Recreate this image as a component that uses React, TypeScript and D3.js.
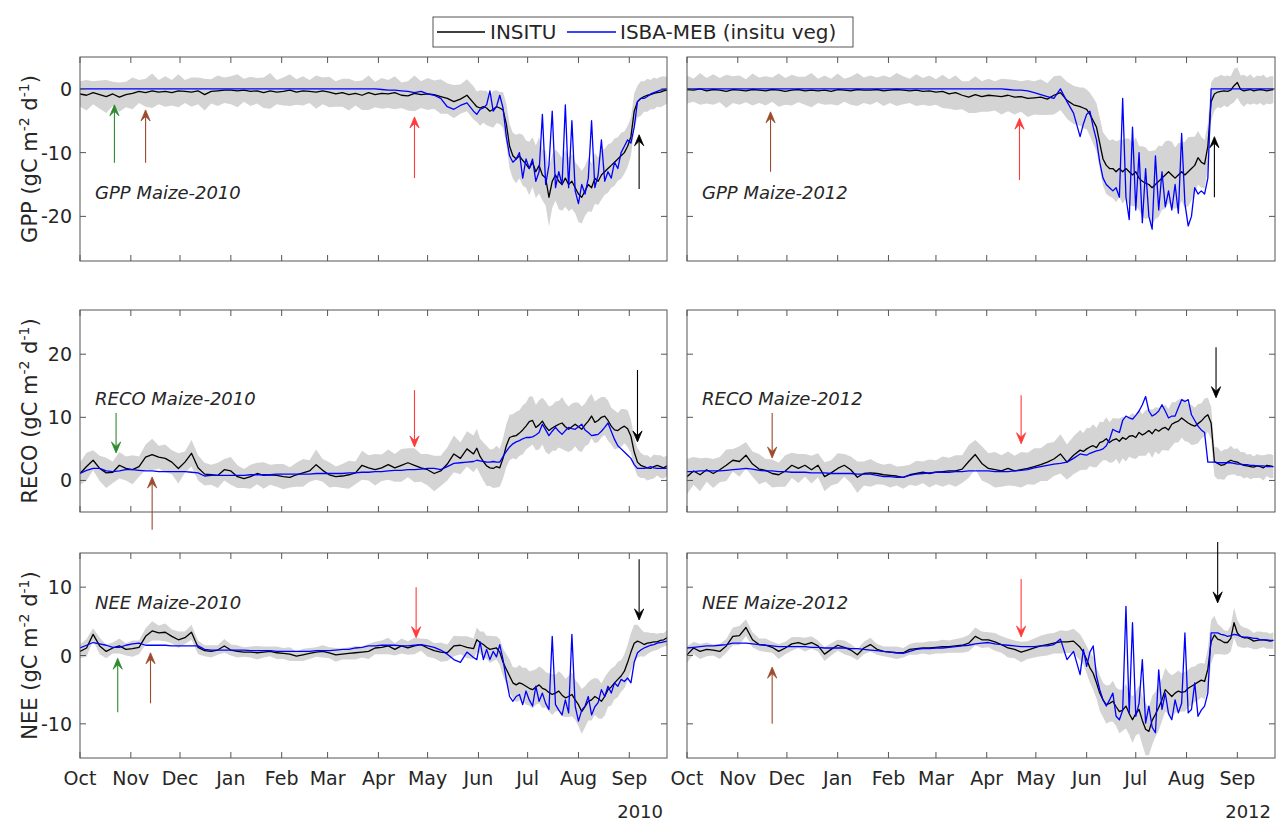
import React from "react";
import * as d3 from "d3";

// ---------------- DATA ----------------
// sample days counted from 1 October (every 4 days until late May, then every 2 days)
const DAYS: number[] = d3.range(0, 240, 4).concat(d3.range(240, 359, 2));
const SEASON_START_YEARS = [2009, 2011];
const YEAR_LABELS = ["2010", "2012"];
const VARIABLES = ["GPP", "RECO", "NEE"];
const Y_DOMAINS: [number, number][] = [[-27, 5], [-5, 27], [-15, 15]];
const Y_TICKS = [[-20, -10, 0], [0, 10, 20], [-10, 0, 10]];
const LEGEND_LABELS = ["INSITU", "ISBA-MEB (insitu veg)"];

const GPP10_INSITU = [
  -0.8, -1.0, -0.6, -0.9, -1.2, -0.8, -1.3, -0.9, -0.7, -0.4,
  -0.6, -0.3, -0.5, -0.4, -0.6, -0.3, -0.4, -0.5, -0.3, -0.9,
  -0.4, -0.3, -0.2, -0.2, -0.3, -0.2, -0.4, -0.3, -0.6, -0.3,
  -0.5, -0.4, -0.2, -0.5, -0.3, -0.4, -0.5, -0.3, -0.5, -0.8,
  -0.6, -0.9, -0.7, -1.0, -0.6, -0.9, -0.7, -0.8, -0.6, -1.0,
  -1.1, -0.7, -0.9, -0.8, -0.9, -1.2, -1.5, -2.0, -1.6, -1.0,
  -2.2, -2.8, -3.0, -2.8, -3.0, -3.5, -3.2, -2.8, -3.0, -3.3,
  -5.5, -9.0, -10.5, -11.0, -10.5, -11.2, -11.8, -12.5, -11.5, -13.0,
  -12.0, -13.5, -14.0, -17.0, -14.5, -13.5, -14.5, -15.0, -14.0, -15.0,
  -14.5, -15.5, -16.5, -17.0, -16.0, -15.0, -15.5, -14.0, -14.5, -13.5,
  -13.0, -12.5, -12.0, -11.5, -11.0, -10.5, -10.0, -9.0, -7.5, -3.5,
  -2.0, -1.5, -1.2, -1.0, -0.9, -0.7, -0.6, -0.5, -0.3, -0.2,
];
const GPP10_MODEL = [
  0, 0, 0, 0, 0, 0, 0, 0, 0, 0,
  0, 0, 0, 0, 0, 0, 0, 0, 0, 0,
  0, 0, 0, 0, 0, 0, 0, 0, 0, 0,
  0, 0, 0, 0, 0, 0, 0, 0, 0, 0,
  0, 0, 0, 0, 0, 0, -0.1, -0.2, -0.2, -0.3,
  -0.4, -0.6, -0.4, -0.8, -1.0, -1.5, -2.8, -3.2, -2.6, -2.2,
  -3.5, -4.0, -3.2, -3.0, -2.5, -0.3, -3.5, -2.8, -1.0, -3.0,
  -7.5, -10.5, -11.5, -11.0, -10.0, -14.0, -11.0, -12.5, -11.0, -14.5,
  -13.0, -4.0, -15.0, -12.0, -3.5, -15.5, -13.0, -15.0, -2.5, -15.5,
  -5.0, -16.0, -18.0, -15.0, -16.5, -14.0, -5.0, -15.5, -13.5, -8.0,
  -14.5, -13.0, -14.0, -11.5, -12.5, -10.0, -9.0, -8.0, -8.5, -6.0,
  -2.0, -1.5, -1.5, -1.2, -0.8, -0.6, -0.4, -0.2, -0.1, 0.0,
];
const GPP10_SPREAD = [
  2.0, 2.4, 1.8, 2.2, 2.6, 1.9, 2.3, 2.0, 2.5, 1.8,
  2.2, 2.7, 1.9, 2.4, 2.0, 2.6, 1.8, 2.3, 2.1, 2.5,
  1.9, 2.4, 2.0, 2.2, 2.6, 1.8, 2.3, 2.0, 2.4, 2.8,
  1.9, 2.2, 2.5, 2.0, 2.3, 1.8, 2.6, 2.1, 2.4, 2.0,
  2.2, 2.5, 1.9, 2.3, 2.7, 2.0, 2.4, 2.2, 2.6, 2.0,
  2.3, 2.8, 2.1, 2.5, 2.2, 2.7, 2.4, 2.6, 2.3, 2.5,
  2.6, 2.4, 2.8, 2.5, 2.7, 2.4, 2.9, 2.6, 2.5, 2.8,
  3.2, 3.5, 3.6, 3.8, 3.5, 4.0, 3.7, 4.2, 3.9, 4.1,
  4.4, 4.0, 4.3, 4.6, 4.2, 4.0, 4.4, 4.1, 4.5, 4.2,
  4.3, 4.0, 4.4, 4.1, 3.9, 4.2, 3.8, 4.0, 3.7, 3.9,
  3.6, 3.8, 3.5, 3.7, 3.4, 3.6, 3.3, 3.2, 3.0, 2.8,
  2.5, 2.7, 2.4, 2.6, 2.3, 2.5, 2.2, 2.4, 2.3, 2.1,
];

const GPP12_INSITU = [
  -0.1, -0.2, 0.0, -0.3, -0.1, -0.2, -0.4, -0.1, -0.2, -0.3,
  -0.1, -0.2, -0.3, -0.1, -0.2, -0.4, -0.2, -0.1, -0.3, -0.2,
  -0.3, -0.2, -0.4, -0.1, -0.2, -0.3, -0.1, -0.2, -0.2, -0.1,
  -0.3, -0.2, -0.1, -0.2, -0.3, -0.2, -0.4, -0.3, -0.5, -0.4,
  -0.8, -0.6, -1.0, -1.3, -0.9, -1.2, -1.0, -1.1, -1.2, -1.0,
  -1.3, -1.2, -1.5, -1.4, -1.3, -1.6, -1.0, -0.6, -1.8, -2.5,
  -2.8, -3.0, -3.2, -4.0, -5.0, -6.0, -8.5, -11.0, -12.0, -12.5,
  -12.5, -13.0, -12.5, -13.0, -12.5, -13.0, -13.5, -13.0, -14.0, -14.5,
  -14.8, -15.0, -15.5, -15.0, -14.5, -14.0, -13.5, -13.0, -13.5, -14.0,
  -13.5, -13.0, -13.5, -13.0, -12.5, -12.0, -10.8, -11.5, -11.8, -9.0,
  -2.0, -0.8, -0.5, -0.4, -0.3, -0.4, -0.2, 0.5, 1.0, -0.1,
  -0.3, -0.2, -0.1, -0.3, -0.2, -0.1, -0.2, -0.3, -0.2, -0.1,
];
const GPP12_MODEL = [
  0, 0, 0, 0, 0, 0, 0, 0, 0, 0,
  0, 0, 0, 0, 0, 0, 0, 0, 0, 0,
  0, 0, 0, 0, 0, 0, 0, 0, 0, 0,
  0, 0, 0, 0, 0, 0, 0, 0, 0, 0,
  0, 0, 0, 0, 0, 0, 0, 0, 0, -0.1,
  -0.2, -0.2, -0.3, -0.6, -0.9, -1.2, -1.5, 0.0, -2.0, -3.8,
  -7.5, -5.5, -4.0, -3.5, -6.0, -8.0, -11.5, -14.0, -15.0, -15.5,
  -16.0, -15.5, -17.0, -1.5, -17.0, -20.5, -6.0, -19.0, -10.0, -21.0,
  -12.5, -20.0, -22.0, -10.5, -19.0, -13.0, -18.5, -16.0, -19.0, -15.0,
  -19.5, -7.0, -18.0, -21.5, -20.0, -15.5, -16.5, -16.0, -16.5, -14.0,
  0, 0, 0, 0, 0, 0, 0, 0, 0, 0,
  0, 0, 0, 0, 0, 0, 0, 0, 0, 0,
];
const GPP12_SPREAD = [
  2.2, 1.8, 2.5, 2.0, 2.4, 1.9, 2.6, 2.1, 2.3, 1.8,
  2.5, 2.0, 2.3, 1.9, 2.6, 2.1, 2.4, 2.0, 2.2, 2.7,
  1.9, 2.3, 2.0, 2.5, 1.8, 2.2, 2.6, 2.0, 2.3, 1.9,
  2.4, 2.0, 2.6, 2.2, 1.9, 2.5, 2.1, 2.4, 2.0, 2.6,
  2.3, 2.7, 2.2, 2.5, 2.9, 2.4, 2.6, 2.3, 2.8, 2.5,
  2.7, 2.4, 2.9, 2.6, 2.8, 2.5, 3.0, 2.7, 2.9, 3.0,
  3.0, 3.2, 3.1, 3.4, 3.6, 3.8, 4.0, 4.2, 4.5, 4.4,
  4.6, 4.8, 4.5, 5.0, 4.7, 5.2, 4.9, 5.4, 5.0, 5.5,
  5.6, 5.2, 5.8, 5.4, 5.6, 5.0, 5.3, 4.9, 5.2, 4.8,
  5.0, 4.6, 5.2, 5.4, 5.0, 4.5, 4.2, 4.0, 3.8, 3.5,
  3.0, 2.6, 2.4, 2.6, 2.3, 2.5, 2.2, 2.6, 2.4, 2.2,
  2.5, 2.1, 2.4, 2.0, 2.3, 2.1, 2.4, 2.0, 2.2, 2.1,
];

const RECO10_INSITU = [
  1.1, 2.2, 3.2, 1.9, 1.2, 1.3, 2.4, 1.9, 1.7, 2.2,
  3.7, 4.1, 3.7, 3.5, 2.9, 1.9, 2.9, 4.3, 2.0, 1.0,
  0.9, 0.8, 1.7, 1.5, 0.6, 0.3, 0.6, 1.1, 0.8, 0.9,
  0.8, 0.6, 0.5, 0.9, 1.2, 1.5, 2.5, 1.6, 0.9, 0.6,
  0.7, 0.9, 1.2, 2.4, 2.0, 1.7, 2.0, 2.5, 2.0, 2.4,
  2.8, 2.4, 2.0, 1.7, 1.1, 1.5, 2.6, 4.2, 3.5, 5.0,
  4.2, 5.1, 3.8, 3.0, 2.3, 2.0, 1.9, 2.2, 2.0, 3.5,
  5.5, 6.8, 7.0, 7.1, 7.5, 8.0, 8.6, 9.3, 9.5, 8.4,
  8.8, 9.4, 8.5, 7.9, 8.3, 8.6, 8.9, 9.1, 8.5, 8.1,
  8.5, 8.9, 8.5, 8.1, 8.8, 9.4, 10.2, 9.2, 9.5, 10.0,
  10.2, 9.5, 8.6, 8.0, 7.9, 8.3, 8.6, 8.2, 7.0, 4.5,
  2.9, 2.4, 2.2, 2.0, 1.9, 2.2, 2.4, 2.2, 2.0, 2.3,
];
const RECO10_MODEL = [
  1.1, 1.6, 1.9, 1.9, 1.5, 1.4, 1.5, 1.7, 1.7, 1.6,
  1.5, 1.5, 1.4, 1.4, 1.4, 1.4, 1.4, 1.3, 1.2, 0.7,
  0.8, 0.8, 0.8, 0.8, 0.8, 0.8, 0.9, 0.9, 0.9, 0.9,
  1.0, 1.0, 1.0, 1.0, 1.0, 1.0, 1.1, 1.1, 1.1, 1.1,
  1.1, 1.2, 1.2, 1.3, 1.3, 1.4, 1.4, 1.5, 1.6, 1.6,
  1.7, 1.7, 1.8, 1.9, 1.9, 1.7, 2.2, 2.7, 2.8, 2.9,
  3.0, 3.2, 3.1, 3.0, 2.9, 2.9, 3.0, 2.9, 2.9, 3.8,
  4.6, 5.3, 5.8, 6.1, 6.3, 6.6, 6.8, 6.8, 6.9, 7.2,
  7.6, 8.9, 8.0, 7.1, 7.8, 8.4, 7.8, 7.3, 7.9, 8.4,
  8.2, 8.1, 8.5, 8.9, 8.0, 7.6, 7.1, 7.2, 7.3, 7.8,
  8.4, 9.1, 7.8, 6.5, 5.5, 5.0, 4.5, 4.0, 3.5, 2.5,
  1.9, 1.9, 1.9, 2.0, 2.2, 2.0, 1.9, 1.9, 1.9, 1.9,
];
const RECO10_SPREAD = [
  1.8, 2.2, 1.6, 2.0, 2.4, 1.7, 2.1, 1.9, 2.3, 1.6,
  2.0, 2.5, 1.8, 2.2, 1.9, 2.4, 1.7, 2.1, 2.0, 1.8,
  1.6, 2.0, 1.7, 2.2, 1.8, 1.5, 1.9, 1.7, 2.1, 1.6,
  1.8, 2.0, 1.6, 1.9, 2.2, 1.7, 2.4, 1.8, 2.0, 1.6,
  1.9, 2.2, 1.8, 2.3, 2.0, 2.5, 2.1, 2.4, 2.2, 2.6,
  2.3, 2.7, 2.2, 2.5, 2.8, 2.4, 2.6, 2.9, 2.5, 2.8,
  2.9, 3.1, 2.8, 3.0, 3.2, 2.9, 3.1, 3.3, 3.0, 3.2,
  3.4, 3.6, 3.5, 3.8, 3.6, 3.9, 3.7, 4.0, 3.8, 3.6,
  3.9, 3.7, 4.0, 3.8, 3.6, 3.9, 3.7, 4.1, 3.8, 3.6,
  3.7, 3.5, 3.8, 3.6, 3.4, 3.7, 3.5, 3.3, 3.4, 3.2,
  3.0, 3.2, 2.9, 3.1, 2.8, 3.0, 2.7, 2.9, 2.6, 2.4,
  2.2, 2.0, 1.8, 2.0, 1.7, 1.9, 1.6, 1.8, 1.7, 1.6,
];

const RECO12_INSITU = [
  0.6, 1.5, 0.9, 1.7, 1.1, 1.7, 2.4, 3.2, 3.0, 4.0,
  2.6, 1.8, 1.6, 1.1, 0.9, 1.5, 2.4, 1.9, 2.4, 1.7,
  2.4, 0.6, 1.2, 1.9, 2.4, 1.7, 0.5, 1.1, 1.2, 1.1,
  0.9, 0.8, 0.7, 0.5, 0.9, 1.1, 1.3, 1.1, 1.3, 1.4,
  1.5, 1.5, 1.8, 3.0, 4.1, 2.7, 1.9, 1.7, 1.5, 1.9,
  1.5, 1.7, 1.9, 2.2, 2.5, 2.9, 3.4, 4.2, 2.9, 4.0,
  4.8, 4.6, 5.0, 5.3, 5.5, 5.2, 6.0, 6.2, 6.6, 6.0,
  6.4, 6.6, 6.2, 6.8, 6.5, 7.0, 7.1, 6.8, 7.6, 7.2,
  7.5, 7.9, 7.4, 8.1, 7.8, 8.2, 8.4, 8.0, 8.9, 9.2,
  9.4, 9.9, 9.5, 9.1, 8.8, 8.6, 9.0, 9.4, 10.0, 10.4,
  9.1, 3.0, 2.7, 2.4, 2.5, 2.9, 3.2, 3.0, 2.9, 2.6,
  2.4, 2.3, 2.2, 2.1, 2.3, 2.2, 2.0, 2.4, 2.3, 2.2,
];
const RECO12_MODEL = [
  1.4, 1.4, 1.5, 1.5, 1.5, 1.5, 1.6, 1.7, 1.8, 1.9,
  1.8, 1.6, 1.5, 1.5, 1.4, 1.4, 1.3, 1.3, 1.3, 1.2,
  1.2, 1.2, 1.1, 1.1, 1.1, 1.1, 1.0, 1.0, 1.0, 0.8,
  0.6, 0.6, 0.5, 0.5, 0.8, 1.0, 1.1, 1.2, 1.3, 1.3,
  1.3, 1.4, 1.4, 1.5, 1.5, 1.5, 1.5, 1.4, 1.4, 1.4,
  1.5, 1.6, 1.7, 2.0, 2.2, 2.4, 2.6, 2.7, 2.9, 3.5,
  4.2, 4.1, 4.0, 4.3, 4.5, 4.7, 4.8, 5.0, 5.5, 6.5,
  8.1, 7.8, 7.6, 9.5, 10.2, 9.9, 9.7, 10.3, 11.0, 12.0,
  13.3, 11.0, 10.2, 10.5, 11.0, 12.0, 11.0, 9.9, 10.2, 10.2,
  11.5, 12.8, 12.5, 12.8, 10.4, 9.5, 8.6, 8.0, 7.6, 2.9,
  2.9, 2.9, 2.8, 2.8, 2.8, 2.8, 2.8, 2.7, 2.6, 2.6,
  2.5, 2.5, 2.4, 2.4, 2.3, 2.3, 2.3, 2.2, 2.2, 2.2,
];
const RECO12_SPREAD = [
  2.8, 2.2, 2.6, 1.9, 2.3, 2.0, 2.5, 1.8, 2.4, 2.1,
  2.0, 2.4, 1.8, 2.2, 1.9, 2.5, 2.0, 2.3, 1.8, 2.2,
  1.9, 2.3, 2.0, 2.4, 1.8, 2.1, 2.5, 1.9, 2.2, 1.7,
  1.6, 1.9, 1.5, 1.8, 1.6, 2.0, 1.7, 2.2, 1.9, 2.4,
  2.1, 2.5, 2.2, 2.6, 2.3, 2.7, 2.4, 2.8, 2.5, 2.7,
  2.4, 2.8, 2.5, 2.9, 2.6, 3.0, 2.7, 3.1, 2.8, 3.0,
  3.2, 2.9, 3.3, 3.0, 3.4, 3.1, 3.3, 3.0, 3.4, 3.2,
  3.5, 3.2, 3.6, 3.3, 3.5, 3.2, 3.6, 3.4, 3.7, 3.3,
  3.6, 3.4, 3.8, 3.5, 3.7, 3.4, 3.6, 3.3, 3.5, 3.2,
  3.4, 3.1, 3.3, 3.0, 3.2, 2.9, 3.1, 2.8, 3.0, 2.7,
  2.6, 2.3, 2.5, 2.2, 2.4, 2.1, 2.3, 2.0, 2.2, 1.9,
  2.1, 1.8, 2.0, 1.7, 1.9, 1.8, 2.0, 1.7, 1.9, 1.8,
];

const NEE10_INSITU = [
  0.6, 1.1, 3.1, 1.4, 0.6, 1.1, 1.4, 0.9, 1.0, 1.2,
  2.8, 3.6, 3.3, 3.4, 2.8, 2.3, 2.6, 3.4, 1.2, 0.7,
  0.6, 0.8, 1.4, 0.8, 0.6, 0.5, 0.5, 0.4, 0.5, 0.6,
  0.4, 0.3, 0.2, -0.1, 0.1, 0.3, 0.5, 0.6, 0.4, 0.1,
  0.2, 0.3, 0.4, 0.5, 0.6, 1.1, 1.2, 1.4, 0.9, 1.4,
  1.1, 1.4, 1.6, 1.1, 0.7, 0.5, 0.4, 1.4, 1.5, 1.2,
  1.0, 2.3, 1.9, 1.6, 1.2, 0.9, 1.0, 1.1, 0.5, -1.0,
  -2.0, -3.0, -4.0, -4.3, -4.0, -4.2, -4.5, -4.8, -5.0, -4.6,
  -4.3, -4.8, -5.0, -5.4, -5.7, -5.5, -5.2, -5.8, -6.2, -6.0,
  -5.7, -6.5, -7.2, -8.2, -7.5, -6.7, -6.5, -6.0, -6.3, -6.7,
  -6.0, -5.0, -4.6, -4.0, -3.5, -3.0, -2.3, -1.0, 0.5, 1.8,
  2.1, 1.9, 1.6, 1.8, 1.9, 2.0, 2.0, 2.2, 2.3, 2.6,
];
const NEE10_MODEL = [
  1.1, 1.5, 1.9, 1.7, 1.5, 1.2, 1.2, 1.5, 1.7, 1.8,
  1.5, 1.5, 1.5, 1.5, 1.4, 1.4, 1.4, 1.4, 1.4, 0.9,
  0.8, 0.8, 0.8, 0.8, 0.8, 0.8, 0.7, 0.7, 0.7, 0.7,
  0.6, 0.6, 0.6, 0.6, 0.6, 0.6, 0.7, 0.7, 0.7, 0.8,
  0.9, 0.9, 1.1, 1.2, 1.4, 1.4, 1.5, 1.5, 1.5, 1.4,
  1.4, 1.5, 1.6, 1.4, 1.2, 0.8, 0.2, -0.6, -1.0, 0.5,
  -0.3, -0.6, 2.0, -0.6, 0.9, -0.6, 0.6, -0.2, 1.6, -0.6,
  -3.5, -6.0, -6.7, -6.0, -5.7, -7.2, -5.2, -6.5, -7.4, -4.5,
  -6.7, -5.5, -7.0, -7.9, 2.8, -7.2, -8.0, -8.7, -6.5, -8.4,
  3.1, -7.4, -9.6, -8.0, -7.4, -6.0, -8.7, -7.5, -6.9, -5.0,
  -6.0, -4.5, -5.5, -4.0, -4.5, -3.5, -3.8, -3.3, -4.0, -1.0,
  0.4, 0.8, 1.1, 1.3, 1.5, 1.6, 1.8, 1.9, 2.0, 2.1,
];
const NEE10_SPREAD = [
  1.0, 1.3, 0.9, 1.2, 1.0, 0.8, 1.1, 0.9, 1.2, 1.0,
  1.2, 1.4, 1.1, 1.3, 1.0, 1.2, 0.9, 1.1, 1.0, 0.8,
  0.9, 0.7, 1.0, 0.8, 0.9, 0.7, 0.8, 1.0, 0.8, 0.7,
  0.9, 0.8, 1.0, 0.7, 0.9, 0.8, 0.7, 0.9, 0.8, 1.0,
  0.8, 0.9, 1.0, 0.8, 1.1, 0.9, 1.0, 1.2, 0.9, 1.1,
  1.0, 1.2, 0.9, 1.3, 1.1, 1.4, 1.2, 1.5, 1.3, 1.6,
  1.5, 1.8, 1.6, 1.9, 1.7, 2.0, 1.8, 1.7, 1.9, 2.0,
  2.2, 2.4, 2.3, 2.5, 2.6, 2.4, 2.7, 2.5, 2.8, 2.6,
  2.7, 2.9, 2.6, 2.8, 3.0, 2.7, 2.9, 3.1, 2.8, 3.0,
  3.2, 2.9, 3.1, 3.3, 3.0, 2.8, 3.0, 2.7, 2.9, 2.6,
  2.8, 2.5, 2.7, 2.4, 2.6, 2.3, 2.5, 2.6, 2.8, 2.7,
  2.4, 2.0, 1.8, 1.6, 1.4, 1.3, 1.2, 1.1, 1.0, 1.1,
];

const NEE12_INSITU = [
  0.1, 1.1, 0.6, 0.9, 0.8, 0.6, 1.4, 2.8, 2.9, 4.1,
  2.3, 1.6, 1.5, 1.2, 0.6, 1.1, 1.7, 1.9, 1.6, 1.9,
  1.4, 0.2, 0.9, 1.5, 1.2, 0.8, 0.1, 1.1, 1.6, 0.9,
  0.6, 0.5, 0.4, 0.4, 0.9, 1.0, 1.1, 1.1, 1.2, 1.3,
  1.3, 1.4, 1.5, 1.8, 2.8, 2.3, 2.3, 2.0, 1.6, 1.1,
  0.9, 0.5, 0.8, 1.1, 1.4, 1.6, 1.8, 2.0, 2.0, 2.1,
  1.2, 0.5, -0.6, -1.8, -2.6, -4.0, -5.5, -6.5, -7.2, -7.0,
  -6.7, -7.5, -8.2, -8.0, -7.4, -8.5, -9.4, -8.5, -7.9, -9.5,
  -10.8, -11.1, -9.5, -8.6, -7.6, -6.5, -5.0, -5.5, -6.0, -5.5,
  -5.2, -5.4, -5.3, -4.8, -4.5, -4.2, -3.9, -3.6, -3.8, -2.0,
  2.0, 3.0, 2.4, 2.2, 1.9, 1.9, 2.5, 4.8, 3.3, 2.8,
  2.6, 2.6, 2.4, 2.1, 2.2, 2.3, 2.3, 2.2, 2.1, 2.2,
];
const NEE12_MODEL = [
  1.1, 1.2, 1.3, 1.4, 1.4, 1.5, 1.6, 1.8, 1.8, 1.8,
  1.7, 1.6, 1.5, 1.4, 1.3, 1.3, 1.3, 1.3, 1.3, 1.2,
  1.2, 1.1, 1.1, 1.1, 1.1, 1.0, 1.0, 0.9, 0.8, 0.7,
  0.6, 0.5, 0.4, 0.3, 0.6, 0.9, 1.0, 1.0, 1.1, 1.1,
  1.2, 1.3, 1.4, 1.5, 1.7, 1.8, 1.9, 1.7, 1.6, 1.5,
  1.4, 1.3, 1.3, 1.3, 1.4, 1.4, 1.6, 2.4, -0.6, 0.6,
  -2.8, 0.9, -1.6, 0.5, 1.4, -3.0, -5.0, -6.5, -7.4, -6.5,
  -5.5, -8.9, -9.4, -8.0, 7.2, -8.4, 4.8, -8.9, -7.0, -0.6,
  -9.9, -7.4, -10.5, -11.3, -2.1, -7.9, -5.5, -8.5, -9.4, -6.5,
  -8.4, -7.0, 3.3, -8.4, -7.9, -4.0, -8.9, -8.0, -7.4, -5.5,
  3.3, 3.3, 3.3, 3.1, 3.0, 2.8, 2.9, 3.1, 3.0, 2.8,
  2.7, 2.7, 2.6, 2.5, 2.5, 2.3, 2.3, 2.3, 2.2, 2.2,
];
const NEE12_SPREAD = [
  1.2, 0.9, 1.1, 1.0, 0.8, 1.1, 1.0, 1.3, 1.4, 1.2,
  1.1, 0.9, 1.0, 0.8, 1.1, 0.9, 1.0, 0.8, 1.0, 0.9,
  0.8, 1.0, 0.9, 0.8, 1.0, 0.9, 0.8, 0.9, 1.0, 0.8,
  0.7, 0.8, 0.9, 0.7, 0.8, 0.9, 0.8, 1.0, 0.9, 1.0,
  0.9, 1.0, 1.1, 1.2, 1.3, 1.2, 1.1, 1.3, 1.2, 1.4,
  1.3, 1.5, 1.3, 1.4, 1.5, 1.6, 1.5, 1.7, 1.6, 1.8,
  1.9, 1.8, 2.0, 2.2, 2.4, 2.3, 2.6, 2.5, 2.8, 2.7,
  3.0, 2.8, 3.2, 3.0, 3.3, 3.1, 3.4, 3.2, 3.5, 3.6,
  3.8, 3.5, 3.6, 3.3, 3.4, 3.1, 3.2, 3.0, 3.1, 2.9,
  3.0, 2.8, 2.9, 2.7, 2.8, 2.6, 2.7, 2.5, 2.6, 3.0,
  3.2, 2.8, 2.2, 2.0, 1.8, 1.7, 1.9, 2.2, 1.9, 1.6,
  1.5, 1.4, 1.3, 1.2, 1.3, 1.2, 1.1, 1.2, 1.1, 1.2,
];

// event arrows: [kind, day from 1 Oct, tail value, head value]
type Arrow = [string, number, number, number];
const ARROWS_GPP_2010: Arrow[] = [
  ["green", 21, -11.6, -2.5], ["brown", 40, -11.6, -3.3], ["red", 204, -14.0, -4.4], ["black", 341.5, -15.7, -7.2],
];
const ARROWS_GPP_2012: Arrow[] = [
  ["brown", 51, -13.0, -3.6], ["red", 203, -14.3, -4.6], ["black", 322, -17.0, -7.5],
];
const ARROWS_RECO_2010: Arrow[] = [
  ["green", 22.5, 10.7, 4.35], ["brown", 44, -7.8, 0.55], ["red", 204, 14.3, 5.3], ["black", 340, 17.5, 6.1],
];
const ARROWS_RECO_2012: Arrow[] = [
  ["brown", 52, 10.7, 3.55], ["red", 204, 13.5, 5.8], ["black", 323, 21.1, 13.1],
];
const ARROWS_NEE_2010: Arrow[] = [
  ["green", 23, -8.3, -0.4], ["brown", 43, -7.0, 0.4], ["red", 205.5, 10.0, 2.6], ["black", 341.5, 14.1, 5.2],
];
const ARROWS_NEE_2012: Arrow[] = [
  ["brown", 52, -10.0, -1.7], ["red", 204.5, 11.2, 2.7], ["black", 324, 16.6, 7.7],
];

const SERIES = [
  [[GPP10_INSITU, GPP10_MODEL, GPP10_SPREAD], [GPP12_INSITU, GPP12_MODEL, GPP12_SPREAD]],
  [[RECO10_INSITU, RECO10_MODEL, RECO10_SPREAD], [RECO12_INSITU, RECO12_MODEL, RECO12_SPREAD]],
  [[NEE10_INSITU, NEE10_MODEL, NEE10_SPREAD], [NEE12_INSITU, NEE12_MODEL, NEE12_SPREAD]],
];
const ARROWS = [
  [ARROWS_GPP_2010, ARROWS_GPP_2012],
  [ARROWS_RECO_2010, ARROWS_RECO_2012],
  [ARROWS_NEE_2010, ARROWS_NEE_2012],
];

// ---------------- LAYOUT / STYLE ----------------
const W = 1277;
const H = 824;
const FONT = "'DejaVu Sans', Verdana, sans-serif";
const COLS = [{ x0: 80, x1: 667 }, { x0: 687, x1: 1275 }];
const ROWS = [{ y0: 57, y1: 261, labelY: 199 }, { y0: 310, y1: 512, labelY: 405 }, { y0: 553, y1: 758, labelY: 609 }];
const ARROW_COLORS: Record<string, string> = {
  green: "#2f8a2f", brown: "#9c4a2c", red: "#ff3a3a", black: "#000000",
};
const AXIS_COLOR = "#555";
const TEXT_COLOR = "#262626";
const GREY = "#d4d4d4";
const BLUE = "#0000ff";

function ArrowMark({ x, yTail, yHead, color }: { x: number; yTail: number; yHead: number; color: string }) {
  const dir = yHead < yTail ? -1 : 1; // -1 = pointing up
  const L = 11;
  const w = 4.6;
  const notch = 6.5;
  const base = yHead - dir * L;
  const mid = yHead - dir * notch;
  const head = `M${x},${yHead} L${x - w},${base} L${x},${mid} L${x + w},${base} Z`;
  return (
    <g>
      <line x1={x} x2={x} y1={yTail} y2={mid} stroke={color} strokeWidth={1.1} />
      <path d={head} fill={color} stroke={color} strokeWidth={0.8} strokeLinejoin="miter" />
    </g>
  );
}

function Panel({ row, col }: { row: number; col: number }) {
  const { x0, x1 } = COLS[col];
  const { y0, y1, labelY } = ROWS[row];
  const ys = SEASON_START_YEARS[col];
  const start = new Date(ys, 9, 1);
  const end = new Date(ys + 1, 8, 24);
  const x = d3.scaleTime().domain([start, end]).range([x0, x1]);
  const y = d3.scaleLinear().domain(Y_DOMAINS[row]).range([y1, y0]);
  const [ins, mod, spr] = SERIES[row][col];
  const dateOf = (d: number) => new Date(ys, 9, 1 + d);
  const pts = DAYS.map((d, i) => ({ t: dateOf(d), ins: ins[i], mod: mod[i], spr: spr[i] }));
  const area = d3
    .area<typeof pts[0]>()
    .x((p) => x(p.t))
    .y0((p) => y(p.ins - p.spr))
    .y1((p) => y(p.ins + p.spr));
  const lineIns = d3.line<typeof pts[0]>().x((p) => x(p.t)).y((p) => y(p.ins));
  const lineMod = d3.line<typeof pts[0]>().x((p) => x(p.t)).y((p) => y(p.mod));
  const months = d3.timeMonth.range(start, new Date(ys + 1, 8, 25));
  const clipId = `clip-${row}-${col}`;
  const tickLen = 6;
  const fmt = d3.timeFormat("%b");
  const name = VARIABLES[row];

  return (
    <g>
      <defs>
        <clipPath id={clipId}>
          <rect x={x0} y={y0} width={x1 - x0} height={y1 - y0} />
        </clipPath>
      </defs>
      <g clipPath={`url(#${clipId})`}>
        <path d={area(pts) || ""} fill={GREY} stroke="none" />
        <path d={lineIns(pts) || ""} fill="none" stroke="#000" strokeWidth={1.3} strokeLinejoin="round" />
        <path d={lineMod(pts) || ""} fill="none" stroke={BLUE} strokeWidth={1.3} strokeLinejoin="round" />
      </g>
      <rect x={x0} y={y0} width={x1 - x0} height={y1 - y0} fill="none" stroke={AXIS_COLOR} strokeWidth={1} />
      {months.map((m, i) => {
        const px = x(m);
        return (
          <g key={i}>
            <line x1={px} x2={px} y1={y1} y2={y1 - tickLen} stroke={AXIS_COLOR} />
            <line x1={px} x2={px} y1={y0} y2={y0 + tickLen} stroke={AXIS_COLOR} />
            {row === 2 && (
              <text x={px} y={785} textAnchor="middle" fontSize={19} fill={TEXT_COLOR} fontFamily={FONT}>
                {fmt(m)}
              </text>
            )}
          </g>
        );
      })}
      {Y_TICKS[row].map((v) => {
        const py = y(v);
        return (
          <g key={v}>
            <line x1={x0} x2={x0 + tickLen} y1={py} y2={py} stroke={AXIS_COLOR} />
            <line x1={x1} x2={x1 - tickLen} y1={py} y2={py} stroke={AXIS_COLOR} />
            {col === 0 && (
              <text x={72} y={py + 7} textAnchor="end" fontSize={19} fill={TEXT_COLOR} fontFamily={FONT}>
                {v}
              </text>
            )}
          </g>
        );
      })}
      {col === 0 && (
        <text
          transform={`translate(37, ${(y0 + y1) / 2}) rotate(-90)`}
          textAnchor="middle"
          fontSize={21}
          fill={TEXT_COLOR}
          fontFamily={FONT}
        >
          {name} (gC m
          <tspan dy={-8} fontSize={14}>-2</tspan>
          <tspan dy={8}> d</tspan>
          <tspan dy={-8} fontSize={14}>-1</tspan>
          <tspan dy={8}>)</tspan>
        </text>
      )}
      <text x={x0 + 15} y={labelY} fontSize={18} fontStyle="italic" fill={TEXT_COLOR} fontFamily={FONT}>
        {`${name} Maize-${YEAR_LABELS[col]}`}
      </text>
      {ARROWS[row][col].map(([kind, day, tail, head], i) => (
        <ArrowMark key={i} x={x(dateOf(day))} yTail={y(tail)} yHead={y(head)} color={ARROW_COLORS[kind]} />
      ))}
      {row === 2 && (
        <text x={x1 - 4} y={818} textAnchor="end" fontSize={18} fill={TEXT_COLOR} fontFamily={FONT}>
          {YEAR_LABELS[col]}
        </text>
      )}
    </g>
  );
}

function Legend() {
  return (
    <g fontFamily={FONT} fontSize={20} fill={TEXT_COLOR}>
      <rect x={433} y={17} width={420} height={30} fill="#fff" stroke={AXIS_COLOR} strokeWidth={1} />
      <line x1={437} x2={485} y1={32} y2={32} stroke="#000" strokeWidth={1.3} />
      <text x={490} y={39}>{LEGEND_LABELS[0]}</text>
      <line x1={567} x2={616} y1={32} y2={32} stroke={BLUE} strokeWidth={1.3} />
      <text x={620} y={39}>{LEGEND_LABELS[1]}</text>
    </g>
  );
}

export default function App() {
  return (
    <svg
      width={W}
      height={H}
      viewBox={`0 0 ${W} ${H}`}
      style={{ position: "absolute", left: 0, top: 0, background: "#fff" }}
    >
      <rect x={0} y={0} width={W} height={H} fill="#fff" />
      {[0, 1, 2].map((r) => [0, 1].map((c) => <Panel key={`${r}-${c}`} row={r} col={c} />))}
      <Legend />
    </svg>
  );
}
